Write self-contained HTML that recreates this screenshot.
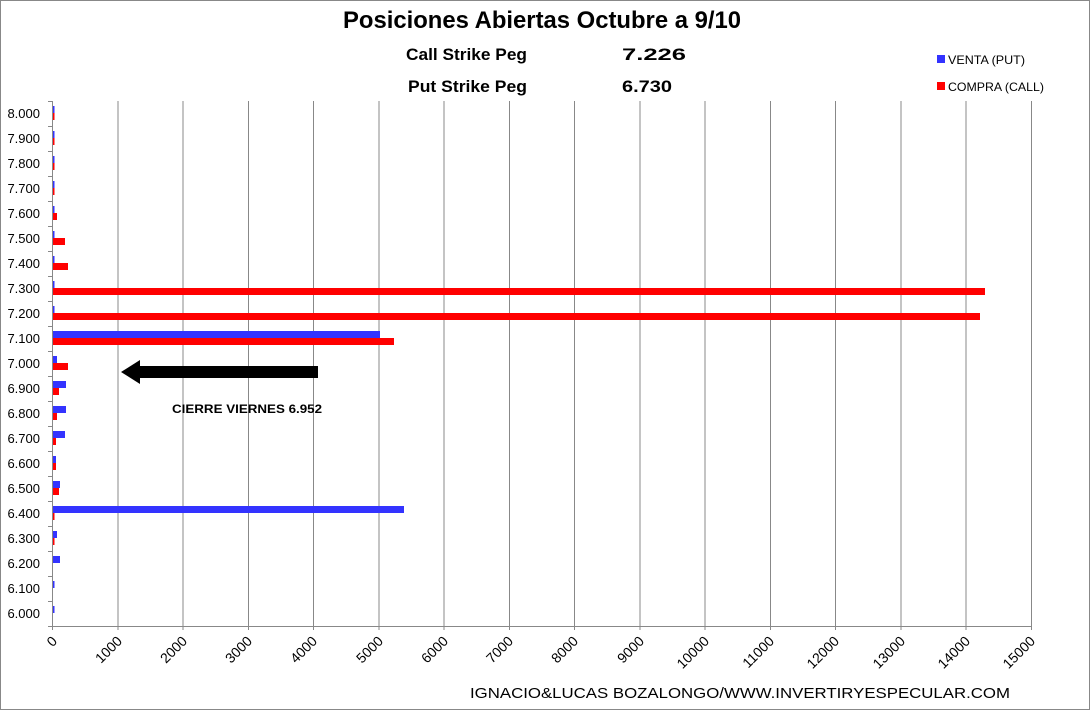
<!DOCTYPE html>
<html><head><meta charset="utf-8"><style>
html,body{margin:0;padding:0;background:#fff}
svg{display:block;font-family:"Liberation Sans",sans-serif}
</style></head><body>
<svg width="1090" height="713" viewBox="0 0 1090 713" xmlns="http://www.w3.org/2000/svg">
<rect x="0.5" y="0.5" width="1089" height="709" fill="#fff" stroke="#888"/>
<text x="343" y="28" font-size="24" font-weight="bold" textLength="398" lengthAdjust="spacingAndGlyphs">Posiciones Abiertas Octubre a 9/10</text>
<text x="406" y="60" font-size="17" font-weight="bold" textLength="121" lengthAdjust="spacingAndGlyphs">Call Strike Peg</text>
<text x="622" y="60" font-size="17" font-weight="bold" textLength="64" lengthAdjust="spacingAndGlyphs">7.226</text>
<text x="408" y="92" font-size="17" font-weight="bold" textLength="119" lengthAdjust="spacingAndGlyphs">Put Strike Peg</text>
<text x="622" y="92" font-size="17" font-weight="bold" textLength="50" lengthAdjust="spacingAndGlyphs">6.730</text>
<rect x="937" y="55" width="8" height="8" fill="#3333ff"/>
<text x="948" y="64" font-size="12" textLength="77" lengthAdjust="spacingAndGlyphs">VENTA (PUT)</text>
<rect x="937" y="82" width="8" height="8" fill="#ff0000"/>
<text x="948" y="91" font-size="12" textLength="96" lengthAdjust="spacingAndGlyphs">COMPRA (CALL)</text>
<g stroke="#888" stroke-width="1">
<line x1="118" y1="101" x2="118" y2="630"/><line x1="183" y1="101" x2="183" y2="630"/><line x1="248.5" y1="101" x2="248.5" y2="630"/><line x1="313.5" y1="101" x2="313.5" y2="630"/><line x1="379" y1="101" x2="379" y2="630"/><line x1="444" y1="101" x2="444" y2="630"/><line x1="509.5" y1="101" x2="509.5" y2="630"/><line x1="574.5" y1="101" x2="574.5" y2="630"/><line x1="640" y1="101" x2="640" y2="630"/><line x1="705" y1="101" x2="705" y2="630"/><line x1="770.5" y1="101" x2="770.5" y2="630"/><line x1="835.5" y1="101" x2="835.5" y2="630"/><line x1="901" y1="101" x2="901" y2="630"/><line x1="966" y1="101" x2="966" y2="630"/><line x1="1031.5" y1="101" x2="1031.5" y2="630"/>
<line x1="52.5" y1="101" x2="52.5" y2="630"/>
<line x1="48" y1="626.5" x2="1032" y2="626.5"/>
</g>
<g stroke="#888">
<line x1="48" y1="101.5" x2="53" y2="101.5"/><line x1="48" y1="126.5" x2="53" y2="126.5"/><line x1="48" y1="151.5" x2="53" y2="151.5"/><line x1="48" y1="176.5" x2="53" y2="176.5"/><line x1="48" y1="201.5" x2="53" y2="201.5"/><line x1="48" y1="226.5" x2="53" y2="226.5"/><line x1="48" y1="251.5" x2="53" y2="251.5"/><line x1="48" y1="276.5" x2="53" y2="276.5"/><line x1="48" y1="301.5" x2="53" y2="301.5"/><line x1="48" y1="326.5" x2="53" y2="326.5"/><line x1="48" y1="351.5" x2="53" y2="351.5"/><line x1="48" y1="376.5" x2="53" y2="376.5"/><line x1="48" y1="401.5" x2="53" y2="401.5"/><line x1="48" y1="426.5" x2="53" y2="426.5"/><line x1="48" y1="451.5" x2="53" y2="451.5"/><line x1="48" y1="476.5" x2="53" y2="476.5"/><line x1="48" y1="501.5" x2="53" y2="501.5"/><line x1="48" y1="526.5" x2="53" y2="526.5"/><line x1="48" y1="551.5" x2="53" y2="551.5"/><line x1="48" y1="576.5" x2="53" y2="576.5"/><line x1="48" y1="601.5" x2="53" y2="601.5"/>
</g>
<g font-size="13" text-anchor="end">
<text x="40" y="118">8.000</text><text x="40" y="143">7.900</text><text x="40" y="168">7.800</text><text x="40" y="193">7.700</text><text x="40" y="218">7.600</text><text x="40" y="243">7.500</text><text x="40" y="268">7.400</text><text x="40" y="293">7.300</text><text x="40" y="318">7.200</text><text x="40" y="343">7.100</text><text x="40" y="368">7.000</text><text x="40" y="393">6.900</text><text x="40" y="418">6.800</text><text x="40" y="443">6.700</text><text x="40" y="468">6.600</text><text x="40" y="493">6.500</text><text x="40" y="518">6.400</text><text x="40" y="543">6.300</text><text x="40" y="568">6.200</text><text x="40" y="593">6.100</text><text x="40" y="618">6.000</text>
</g>
<g fill="#3333ff">
<rect x="53" y="106" width="1.5" height="7"/><rect x="53" y="131" width="1.5" height="7"/><rect x="53" y="156" width="1.5" height="7"/><rect x="53" y="181" width="1.5" height="7"/><rect x="53" y="206" width="1.5" height="7"/><rect x="53" y="231" width="1.5" height="7"/><rect x="53" y="256" width="1.5" height="7"/><rect x="53" y="281" width="1.5" height="7"/><rect x="53" y="306" width="1.5" height="7"/>
<rect x="53" y="331" width="327" height="7"/>
<rect x="53" y="356" width="4" height="7"/><rect x="53" y="381" width="13" height="7"/><rect x="53" y="406" width="13" height="7"/><rect x="53" y="431" width="12" height="7"/><rect x="53" y="456" width="3" height="7"/><rect x="53" y="481" width="7" height="7"/><rect x="53" y="506" width="351" height="7"/><rect x="53" y="531" width="4" height="7"/><rect x="53" y="556" width="7" height="7"/><rect x="53" y="581" width="1.5" height="7"/><rect x="53" y="606" width="1.5" height="7"/>
</g>
<g fill="#ff0000">
<rect x="53" y="113" width="1.5" height="7"/><rect x="53" y="138" width="1.5" height="7"/><rect x="53" y="163" width="1.5" height="7"/><rect x="53" y="188" width="1.5" height="7"/>
<rect x="53" y="213" width="4" height="7"/><rect x="53" y="238" width="12" height="7"/><rect x="53" y="263" width="15" height="7"/><rect x="53" y="288" width="932" height="7"/><rect x="53" y="313" width="927" height="7"/><rect x="53" y="338" width="341" height="7"/><rect x="53" y="363" width="15" height="7"/><rect x="53" y="388" width="6" height="7"/><rect x="53" y="413" width="4" height="7"/><rect x="53" y="438" width="3" height="7"/><rect x="53" y="463" width="3" height="7"/><rect x="53" y="488" width="6" height="7"/><rect x="53" y="513" width="1.5" height="7"/><rect x="53" y="538" width="1.5" height="7"/>
</g>
<rect x="135" y="366" width="183" height="12" fill="#000"/>
<polygon points="121,372 140,360 140,384" fill="#000"/>
<text x="172" y="413" font-size="12" font-weight="bold" textLength="150" lengthAdjust="spacingAndGlyphs">CIERRE VIERNES 6.952</text>
<g font-size="14" text-anchor="end">
<text transform="translate(58,642) rotate(-45)">0</text><text transform="translate(123,642) rotate(-45)">1000</text><text transform="translate(188,642) rotate(-45)">2000</text><text transform="translate(253,642) rotate(-45)">3000</text><text transform="translate(318,642) rotate(-45)">4000</text><text transform="translate(384,642) rotate(-45)">5000</text><text transform="translate(449,642) rotate(-45)">6000</text><text transform="translate(514,642) rotate(-45)">7000</text><text transform="translate(579,642) rotate(-45)">8000</text><text transform="translate(645,642) rotate(-45)">9000</text><text transform="translate(710,642) rotate(-45)">10000</text><text transform="translate(775,642) rotate(-45)">11000</text><text transform="translate(840,642) rotate(-45)">12000</text><text transform="translate(906,642) rotate(-45)">13000</text><text transform="translate(971,642) rotate(-45)">14000</text><text transform="translate(1036,642) rotate(-45)">15000</text>
</g>
<text x="470" y="698" font-size="15" textLength="540" lengthAdjust="spacingAndGlyphs">IGNACIO&amp;LUCAS BOZALONGO/WWW.INVERTIRYESPECULAR.COM</text>
</svg>
</body></html>
